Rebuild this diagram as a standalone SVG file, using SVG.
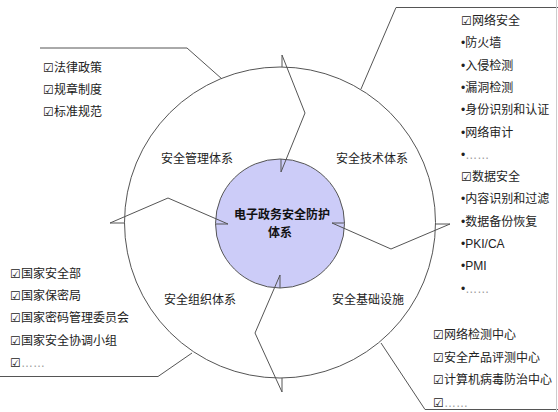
<svg xmlns="http://www.w3.org/2000/svg" width="558" height="412" viewBox="0 0 558 412">
<style>
.ln{fill:none;stroke:#555;stroke-width:1}
.t{font-family:"Liberation Sans","Noto Sans CJK SC",sans-serif;font-size:12px;fill:#222}
.c{font-family:"Noto Sans CJK SC",sans-serif;font-size:12px;font-weight:bold;fill:#111;text-anchor:middle}
.lbl{font-family:"Noto Sans CJK SC",sans-serif;font-size:12px;fill:#222;text-anchor:middle}
.d{fill:#999}
</style>
<rect x="0" y="0" width="558" height="412" fill="#fff"/>
<g id="ring">
<circle cx="280" cy="222.5" r="155.5" fill="#fff" stroke="#555" stroke-width="1"/>
</g>
<g id="core">
<circle cx="280" cy="223.5" r="64.5" fill="#CCCCF8" stroke="#555" stroke-width="1"/>
</g>
<g id="connectors">
<path class="ln" d="M282,67 L282,55 L305,113 L281,172 L281,159"/>
<path class="ln" d="M435,224 L450,224 L391,249 L332,223 L344.5,223"/>
<path class="ln" d="M282,378 L282,392 L255,333 L280,275 L280,288"/>
<path class="ln" d="M125,223 L110,223 L168,198 L228,224 L215.5,224"/>
<path class="ln" d="M40,48 L187,48 L222,79"/>
<path class="ln" d="M558,7.5 L396,7.5 L361,89"/>
<path class="ln" d="M0,376.5 L158,376.5 L192,353"/>
<path class="ln" d="M381,343 L425,409.5 L558,409.5"/>
<path d="M556.5,0 L556.5,412" stroke="#ccc" stroke-width="1" fill="none"/>
</g>
<g id="center-label">
<text class="c" x="282" y="219">电子政务安全防护</text>
<text class="c" x="280" y="236.5">体系</text>
</g>
<g id="seg-management"><text class="lbl" x="197" y="162.5">安全管理体系</text></g>
<g id="seg-technology"><text class="lbl" x="372" y="162.5">安全技术体系</text></g>
<g id="seg-organization"><text class="lbl" x="200" y="303.5">安全组织体系</text></g>
<g id="seg-infrastructure"><text class="lbl" x="368" y="303.5">安全基础设施</text></g>
<g id="list-management">
<text class="t" x="43" y="71.5">☑法律政策</text>
<text class="t" x="43" y="93.5">☑规章制度</text>
<text class="t" x="43" y="115.5">☑标准规范</text>
</g>
<g id="list-technology">
<text class="t" x="461" y="25">☑网络安全</text>
<text class="t" x="461" y="47.3">•防火墙</text>
<text class="t" x="461" y="69.6">•入侵检测</text>
<text class="t" x="461" y="91.9">•漏洞检测</text>
<text class="t" x="461" y="114.2">•身份识别和认证</text>
<text class="t" x="461" y="136.5">•网络审计</text>
<text class="t" x="461" y="158.8">•<tspan class="d">……</tspan></text>
<text class="t" x="461" y="181.1">☑数据安全</text>
<text class="t" x="461" y="203.4">•内容识别和过滤</text>
<text class="t" x="461" y="225.7">•数据备份恢复</text>
<text class="t" x="461" y="248">•PKI/CA</text>
<text class="t" x="461" y="270.3">•PMI</text>
<text class="t" x="461" y="292.6">•<tspan class="d">……</tspan></text>
</g>
<g id="list-organization">
<text class="t" x="10" y="277.5">☑国家安全部</text>
<text class="t" x="10" y="299.5">☑国家保密局</text>
<text class="t" x="10" y="322">☑国家密码管理委员会</text>
<text class="t" x="10" y="344.5">☑国家安全协调小组</text>
<text class="t" x="10" y="366.5">☑<tspan class="d">……</tspan></text>
</g>
<g id="list-infrastructure">
<text class="t" x="433" y="338.5">☑网络检测中心</text>
<text class="t" x="433" y="361.5">☑安全产品评测中心</text>
<text class="t" x="433" y="383.5">☑计算机病毒防治中心</text>
<text class="t" x="433" y="406.5">☑<tspan class="d">……</tspan></text>
</g>
</svg>
